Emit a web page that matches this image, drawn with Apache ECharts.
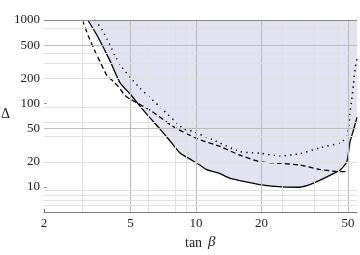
<!DOCTYPE html>
<html><head><meta charset="utf-8">
<script src="https://cdn.jsdelivr.net/npm/echarts@6/dist/echarts.min.js"></script>
<style>html,body{margin:0;padding:0;background:#fff}#c{width:360px;height:255px}</style>
</head><body><div id="c"></div>
<script>
// Solid curve (lower boundary of shaded region)
const solidTan = [3.18, 3.5, 4.0, 4.47, 5.0, 5.5, 6.0, 6.8, 7.5, 8.44, 9.4, 10.4, 11.2, 12.9, 14.3, 15.9, 20, 25, 30, 34.5, 40, 46, 49.4, 51, 53, 55];
const solidDelta = [1000, 660, 335, 178, 128, 94, 72, 50, 37, 25.5, 21.5, 18.3, 16.1, 14.4, 12.7, 11.9, 10.6, 10.0, 9.9, 11.0, 13.2, 15.9, 20, 34, 48, 68];
// Dashed curve
const dashedTan = [3.0, 3.2, 3.44, 3.62, 3.88, 4.17, 4.4, 4.7, 5.0, 6.15, 7.87, 10.07, 12.9, 15.9, 19.7, 24, 30, 37, 46, 49.5];
const dashedDelta = [1000, 640, 417, 317, 220, 183, 159, 126, 112, 83, 52.7, 38, 30.5, 24, 20, 19.2, 18.3, 16.2, 15.2, 15.3];
// Dotted curve
const dottedTan = [3.44, 3.7, 3.9, 4.1, 4.3, 4.5, 5.0, 5.53, 6.83, 8.74, 9.7, 12, 15.9, 19.7, 24.3, 30, 37.2, 46, 49.4, 50.5, 51, 52, 53, 54, 55];
const dottedDelta = [1000, 760, 590, 450, 350, 285, 203, 152, 91, 50, 46, 36.6, 26.5, 25.3, 23.5, 25, 29.4, 33.8, 40, 55, 75, 110, 170, 270, 340];
// Axis labels and grid values
const xLabels = [2, 5, 10, 20, 50];
const yLabelShown = [10, 20, 50, 100, 200, 500, 1000];
const gridXMajor = [5, 10, 20, 50];
const gridXMinor = [3, 6, 8, 9, 25, 35, 45];
const gridYTop = [1000];
const gridYMajor = [500, 50];
const gridYMinor = [800, 400, 300, 200, 90, 60, 40, 20, 9, 8, 7, 6];

const pairs = (a, b) => a.map((v, i) => [v, b[i]]);
const font = '"Liberation Serif", "DejaVu Serif", serif';

const gridLines = [];
gridXMajor.forEach(v => gridLines.push({xAxis: v, lineStyle: {color: '#bdbdbd', width: 1.2, type: 'solid'}}));
gridXMinor.forEach(v => gridLines.push({xAxis: v, lineStyle: {color: '#e0e0e0', width: 1, type: 'solid'}}));
gridYTop.forEach(v => gridLines.push({yAxis: v, lineStyle: {color: '#8a8a8a', width: 1.2, type: 'solid'}}));
gridYMajor.forEach(v => gridLines.push({yAxis: v, lineStyle: {color: '#bdbdbd', width: 1.2, type: 'solid'}}));
gridYMinor.forEach(v => gridLines.push({yAxis: v, lineStyle: {color: '#e0e0e0', width: 1, type: 'solid'}}));

const chart = echarts.init(document.getElementById('c'), null, {renderer: 'canvas'});
chart.setOption({
  animation: false,
  backgroundColor: '#fff',
  grid: {left: 44, right: 3, top: 20, bottom: 43, containLabel: false},
  xAxis: {
    type: 'log', logBase: 10, min: 2, max: 55,
    axisLine: {show: true, lineStyle: {color: '#777', width: 1}},
    axisTick: {show: true, inside: true, length: 3, customValues: xLabels, lineStyle: {color: '#777'}},
    axisLabel: {show: true, customValues: xLabels, color: '#222', fontFamily: font, fontSize: 13, margin: 5,
      formatter: v => String(Math.round(v))},
    splitLine: {show: false}, minorTick: {show: false}, minorSplitLine: {show: false}
  },
  yAxis: {
    type: 'log', logBase: 10, min: 5, max: 1000,
    axisLine: {show: false},
    axisTick: {show: true, inside: true, length: 3, customValues: yLabelShown, lineStyle: {color: '#999'}},
    axisLabel: {show: true, customValues: yLabelShown, color: '#222', fontFamily: font, fontSize: 13, margin: 4,
      formatter: v => String(Math.round(v))},
    splitLine: {show: false}, minorTick: {show: false}, minorSplitLine: {show: false}
  },
  graphic: [
    {type: 'text', left: 1, top: 107, style: {text: 'Δ', font: '14px ' + font, fill: '#222'}},
    {type: 'text', left: 185, top: 236, style: {text: 'tan ', font: '14px ' + font, fill: '#222'}},
    {type: 'text', left: 208, top: 235, style: {text: 'β', font: 'italic 15px ' + font, fill: '#222'}}
  ],
  series: [
    {
      type: 'line', z: 1, silent: true, showSymbol: false,
      data: pairs(solidTan, solidDelta), lineStyle: {width: 0, opacity: 0},
      markLine: {silent: true, symbol: ['none', 'none'], label: {show: false}, animation: false, data: gridLines}
    },
    {
      name: 'solid', type: 'line', z: 3, showSymbol: false, smooth: 0.2,
      data: pairs(solidTan, solidDelta),
      lineStyle: {color: '#000', width: 1.3},
      areaStyle: {origin: 'end', color: 'rgba(90,90,180,0.25)'}
    },
    {
      name: 'dashed', type: 'line', z: 4, showSymbol: false, smooth: 0.2,
      data: pairs(dashedTan, dashedDelta),
      lineStyle: {color: '#000', width: 1.3, type: [5, 3]}
    },
    {
      name: 'dotted', type: 'line', z: 4, showSymbol: false, smooth: 0.2,
      data: pairs(dottedTan, dottedDelta),
      lineStyle: {color: '#000', width: 1.5, type: [1.3, 4.2]}
    }
  ]
});
</script></body></html>
